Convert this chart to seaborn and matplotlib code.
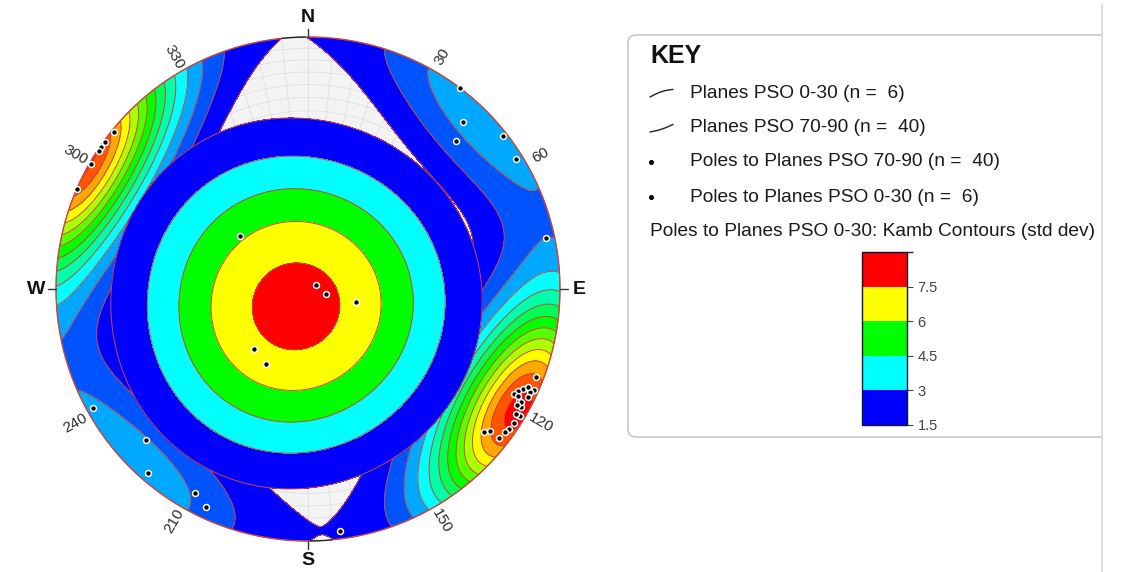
import numpy as np
import matplotlib
matplotlib.use("Agg")
import matplotlib.pyplot as plt
import seaborn as sns
from matplotlib.colors import ListedColormap, BoundaryNorm, LinearSegmentedColormap
from matplotlib.patches import Circle, FancyBboxPatch, Rectangle

# ---------------- data ----------------
# Poles to planes PSO 0-30 (n = 6): trend / plunge in degrees
poles_0_30_trend = [308, 63, 104, 105, 222, 209]
poles_0_30_plunge = [62, 87, 84, 74, 64, 62]

# Poles to planes PSO 70-90 (n = 40): trend / plunge in degrees
poles_70_90_trend = [111, 114, 115, 116, 117, 115, 116, 118, 119, 121, 121, 125, 126, 128, 128, 129,
                     118, 117, 119, 121, 114, 123,
                     309, 306, 304.5, 303.5, 300, 293.5,
                     37, 43, 45, 52, 58, 78,
                     241, 227, 221, 209, 205,
                     172.5]
poles_70_90_plunge = [3.3, 2.2, 6.5, 8.1, 9.1, 3.3, 3.0, 5.9, 3.8, 3.3, 2.2, 3.2, 4.0, 4.5, 9.0, 11.0,
                      5, 7, 6, 4, 5, 3,
                      0.8, 0.5, 0.4, 0.6, 0.5, 0.0,
                      0.0, 10.5, 18.3, 1.9, 2.8, 3.8,
                      3.0, 13.0, 3.7, 8.2, 5.0,
                      3.5]

contour_levels = [1.5, 3.0, 4.5, 6.0, 7.5]
contour_colors = ["#0000FF", "#00FFFF", "#00FF00", "#FFFF00", "#FF0000"]
colorbar_ticks = [1.5, 3, 4.5, 6, 7.5]
compass_labels = ["N", "E", "S", "W"]
compass_azimuths = [0, 90, 180, 270]
degree_labels = [30, 60, 120, 150, 210, 240, 300, 330]
key_title = "KEY"
key_entries = ["Planes PSO 0-30 (n =  6)",
               "Planes PSO 70-90 (n =  40)",
               "Poles to Planes PSO 70-90 (n =  40)",
               "Poles to Planes PSO 0-30 (n =  6)"]
contour_title = "Poles to Planes PSO 0-30: Kamb Contours (std dev)"

# ---------------- helpers ----------------
def pole_vectors(trend, plunge):
    t = np.radians(np.asarray(trend, float))
    p = np.radians(np.asarray(plunge, float))
    return np.column_stack([np.cos(p) * np.sin(t), np.cos(p) * np.cos(t), -np.sin(p)])


def project(trend, plunge):
    theta = np.radians(90 - np.asarray(plunge, float))
    r = np.sqrt(2) * np.sin(theta / 2)
    t = np.radians(np.asarray(trend, float))
    return r * np.sin(t), r * np.cos(t)


def net_vectors(x, y):
    r = np.minimum(np.hypot(x, y), 1.0)
    theta = 2 * np.arcsin(r / np.sqrt(2))
    az = np.arctan2(x, y)
    return np.stack([np.sin(theta) * np.sin(az), np.sin(theta) * np.cos(az), -np.cos(theta)], axis=-1)


def kamb(vec, poles, sigma):
    n = len(poles)
    f = 2 * (1 + n / sigma ** 2)
    units = np.sqrt(n * (f / 2 - 1) / f ** 2)
    cosd = np.abs(vec @ poles.T)
    d = (np.exp(f * (cosd - 1)).sum(-1) - 0.5) / units
    return np.clip(d, 0, None)


SIG_A, SIG_B = 3.6, 3.35

# ---------------- figure ----------------
sns.set_theme(style="white")
plt.rcParams["font.family"] = ["Liberation Sans", "DejaVu Sans"]

W, H = 1122, 572
CX, CY, R = 308, 289, 252
fig = plt.figure(figsize=(W / 100, H / 100), dpi=100)
fig.patch.set_facecolor("white")

ax = fig.add_axes([0, 0, 1, 1])
ax.set_xlim(-CX / R, (W - CX) / R)
ax.set_ylim(-(H - CY) / R, CY / R)
ax.axis("off")

clip = Circle((0, 0), 1.0, transform=ax.transData)

# background net
ax.add_patch(Circle((0, 0), 1.0, facecolor="#F3F3F3", edgecolor="none", zorder=0))
for pl in range(5, 90, 5):
    rr = np.sqrt(2) * np.sin(np.radians(90 - pl) / 2)
    ax.add_patch(Circle((0, 0), rr, fill=False, edgecolor="#DCDCDC", lw=0.5, zorder=1))
for az in range(0, 360, 6):
    a = np.radians(az)
    ax.plot([0, np.sin(a)], [0, np.cos(a)], color="#DCDCDC", lw=0.5, zorder=1)

# density grids
g = np.linspace(-1.02, 1.02, 421)
gx, gy = np.meshgrid(g, g)
vec = net_vectors(gx, gy)
pa = pole_vectors(poles_0_30_trend, poles_0_30_plunge)
pb = pole_vectors(poles_70_90_trend, poles_70_90_plunge)
za = kamb(vec, pa, SIG_A)
zb = kamb(vec, pb, SIG_B)

line_col = "#C8463C"

# PSO 70-90 contours (many levels)
lev_b = list(np.arange(1.5, zb.max(), 1.5))
ramp = LinearSegmentedColormap.from_list("ramp", contour_colors)
cols_b = [ramp(i / max(len(lev_b) - 1, 1)) for i in range(len(lev_b))]
csb = ax.contourf(gx, gy, zb, levels=lev_b + [zb.max() + 1], colors=cols_b, zorder=2)
csb.set_clip_path(clip)
clb = ax.contour(gx, gy, zb, levels=lev_b, colors=line_col, linewidths=0.7, zorder=2.1)
clb.set_clip_path(clip)

# PSO 0-30 contours
top = max(za.max() + 1, 9)
csa = ax.contourf(gx, gy, za, levels=contour_levels + [top], colors=contour_colors, zorder=3)
csa.set_clip_path(clip)
cla = ax.contour(gx, gy, za, levels=contour_levels, colors=line_col, linewidths=0.7, zorder=3.1)
cla.set_clip_path(clip)

# primitive circle: red where contoured, black elsewhere
ang = np.linspace(0, 2 * np.pi, 721)
px, py = np.sin(ang), np.cos(ang)
pvec = net_vectors(px * 0.999, py * 0.999)
filled = (kamb(pvec, pa, SIG_A) >= 1.5) | (kamb(pvec, pb, SIG_B) >= 1.5)
ax.plot(px, py, color=line_col, lw=0.5, zorder=3.9)
ax.plot(np.where(filled, px, np.nan), np.where(filled, py, np.nan), color=line_col, lw=1.0, zorder=4)
ax.plot(np.where(~filled, px, np.nan), np.where(~filled, py, np.nan), color="#222222", lw=1.0, zorder=4)

# poles
xa, ya = project(poles_0_30_trend, poles_0_30_plunge)
xb, yb = project(poles_70_90_trend, poles_70_90_plunge)
sns.scatterplot(x=xb, y=yb, ax=ax, color="black", s=18, edgecolor="white", linewidth=1.1,
                zorder=6, legend=False)
sns.scatterplot(x=xa, y=ya, ax=ax, color="black", s=18, edgecolor="white", linewidth=1.1,
                zorder=6, legend=False)
ax.set_xlim(-CX / R, (W - CX) / R)
ax.set_ylim(-(H - CY) / R, CY / R)
ax.set_xlabel("")
ax.set_ylabel("")

# compass labels and ticks
for lab, az in zip(compass_labels, compass_azimuths):
    a = np.radians(az)
    ax.plot([np.sin(a) * 1.0, np.sin(a) * 1.03], [np.cos(a) * 1.0, np.cos(a) * 1.03],
            color="#333333", lw=1.0, zorder=4)
    ax.text(np.sin(a) * 1.077, np.cos(a) * 1.077, lab, ha="center", va="center",
            fontsize=14, fontweight="bold", color="#111111")

for d in degree_labels:
    a = np.radians(d)
    rot = 90 - d
    while rot <= -90:
        rot += 180
    while rot > 90:
        rot -= 180
    ax.text(np.sin(a) * 1.065, np.cos(a) * 1.065, str(d), ha="center", va="center",
            rotation=rot, rotation_mode="anchor", fontsize=11, color="#2A2A2A")

# ---------------- key ----------------
kx = fig.add_axes([0, 0, 1, 1], facecolor="none")
kx.set_xlim(0, W)
kx.set_ylim(H, 0)
kx.axis("off")

box = FancyBboxPatch((628, 35), 520, 402, boxstyle="round,pad=0,rounding_size=8",
                     facecolor="white", edgecolor="#C8C8C8", lw=1.2)
kx.add_patch(box)
box.set_clip_path(Rectangle((0, 0), 1102, H, transform=kx.transData))
kx.plot([1102.5, 1102.5], [4, H], color="#D8D8D8", lw=1.2)

kx.text(650, 56, key_title, fontsize=18, fontweight="bold", color="#111111", va="center", ha="left")
text_y = [93, 128, 162, 197]
for i, (lab, yy) in enumerate(zip(key_entries, text_y)):
    kx.text(690, yy, lab, fontsize=13.8, color="#1A1A1A", va="center", ha="left")
    if i < 2:
        xs = np.linspace(650, 673, 20)
        bow = 1.5 if i == 0 else -1.0
        ys = yy + 4 - (xs - 650) * 0.33 - bow * np.sin(np.pi * (xs - 650) / 23)
        kx.plot(xs, ys, color="#222222", lw=1.0)
    else:
        kx.plot([651], [yy], marker="o", ms=2.6, color="black")
kx.text(650, 232, contour_title, fontsize=13.8, color="#1A1A1A", va="center", ha="left")

# colorbar
cax = fig.add_axes([862 / W, 1 - 425 / H, 45 / W, 173 / H])
cmap = ListedColormap(contour_colors)
bounds = contour_levels + [9.0]
norm = BoundaryNorm(bounds, cmap.N)
cb = matplotlib.colorbar.ColorbarBase(cax, cmap=cmap, norm=norm, boundaries=bounds,
                                      ticks=colorbar_ticks, spacing="uniform")
cb.outline.set_edgecolor("#111133")
cb.outline.set_linewidth(1.0)
cb.ax.tick_params(labelsize=10.5, length=4, width=0.8, colors="#444444", direction="out", right=True)
cb.ax.set_yticklabels([("%g" % t) for t in colorbar_ticks])

fig.savefig("out.png", dpi=100, facecolor="white")
